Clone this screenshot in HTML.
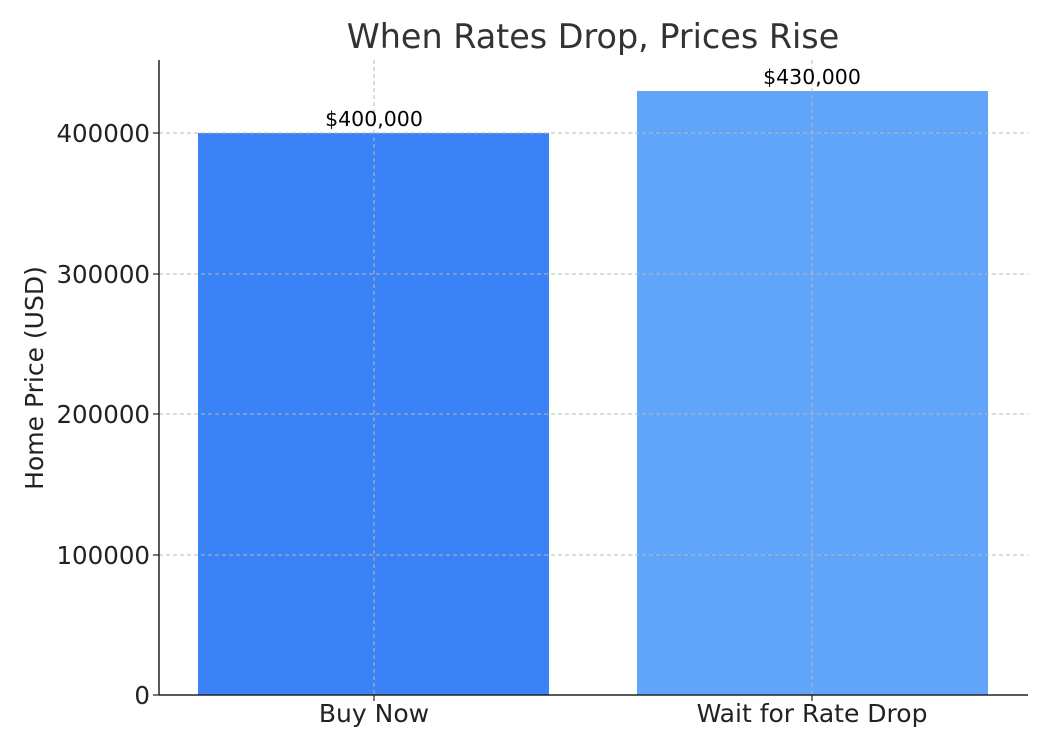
<!DOCTYPE html>
<html><head><meta charset="utf-8"><style>
html,body{margin:0;padding:0;background:#fff;}
svg{display:block;}
text{font-family:"DejaVu Sans","Liberation Sans",sans-serif;}
</style></head><body>
<svg width="1050" height="750" viewBox="0 0 1050 750" xmlns="http://www.w3.org/2000/svg">
<rect width="1050" height="750" fill="#fff"/>
<text x="593" y="48" font-size="33.4" fill="#333" text-anchor="middle">When Rates Drop, Prices Rise</text>
<rect x="198" y="133" width="351" height="562" fill="#3b82f6"/>
<rect x="637" y="91" width="351" height="604" fill="#60a5fa"/>
<g stroke="#b8b8b8" stroke-width="1" stroke-dasharray="4,3">
<line x1="159" y1="555" x2="1028" y2="555"/>
<line x1="159" y1="414" x2="1028" y2="414"/>
<line x1="159" y1="274" x2="1028" y2="274"/>
<line x1="159" y1="133" x2="1028" y2="133"/>
<line x1="374" y1="60" x2="374" y2="695"/>
<line x1="812" y1="60" x2="812" y2="695"/>
</g>
<line x1="159" y1="60" x2="159" y2="695" stroke="#222" stroke-width="1.5"/>
<line x1="159" y1="695" x2="1028" y2="695" stroke="#222" stroke-width="1.5"/>
<g stroke="#222" stroke-width="1.2">
<line x1="153" y1="695" x2="159" y2="695"/>
<line x1="153" y1="555" x2="159" y2="555"/>
<line x1="153" y1="414" x2="159" y2="414"/>
<line x1="153" y1="274" x2="159" y2="274"/>
<line x1="153" y1="133" x2="159" y2="133"/>
<line x1="374" y1="695" x2="374" y2="701"/>
<line x1="812" y1="695" x2="812" y2="701"/>
</g>
<g font-size="24.5" fill="#222" text-anchor="end">
<text x="150" y="704">0</text>
<text x="150" y="564">100000</text>
<text x="150" y="423">200000</text>
<text x="150" y="283">300000</text>
<text x="150" y="142">400000</text>
</g>
<g font-size="25" fill="#222" text-anchor="middle">
<text x="374" y="722">Buy Now</text>
<text x="812" y="722">Wait for Rate Drop</text>
</g>
<text transform="translate(43,378) rotate(-90)" font-size="25" fill="#222" text-anchor="middle">Home Price (USD)</text>
<g font-size="20.5" fill="#000" text-anchor="middle">
<text x="374" y="126">$400,000</text>
<text x="812" y="84">$430,000</text>
</g>
</svg>
</body></html>
